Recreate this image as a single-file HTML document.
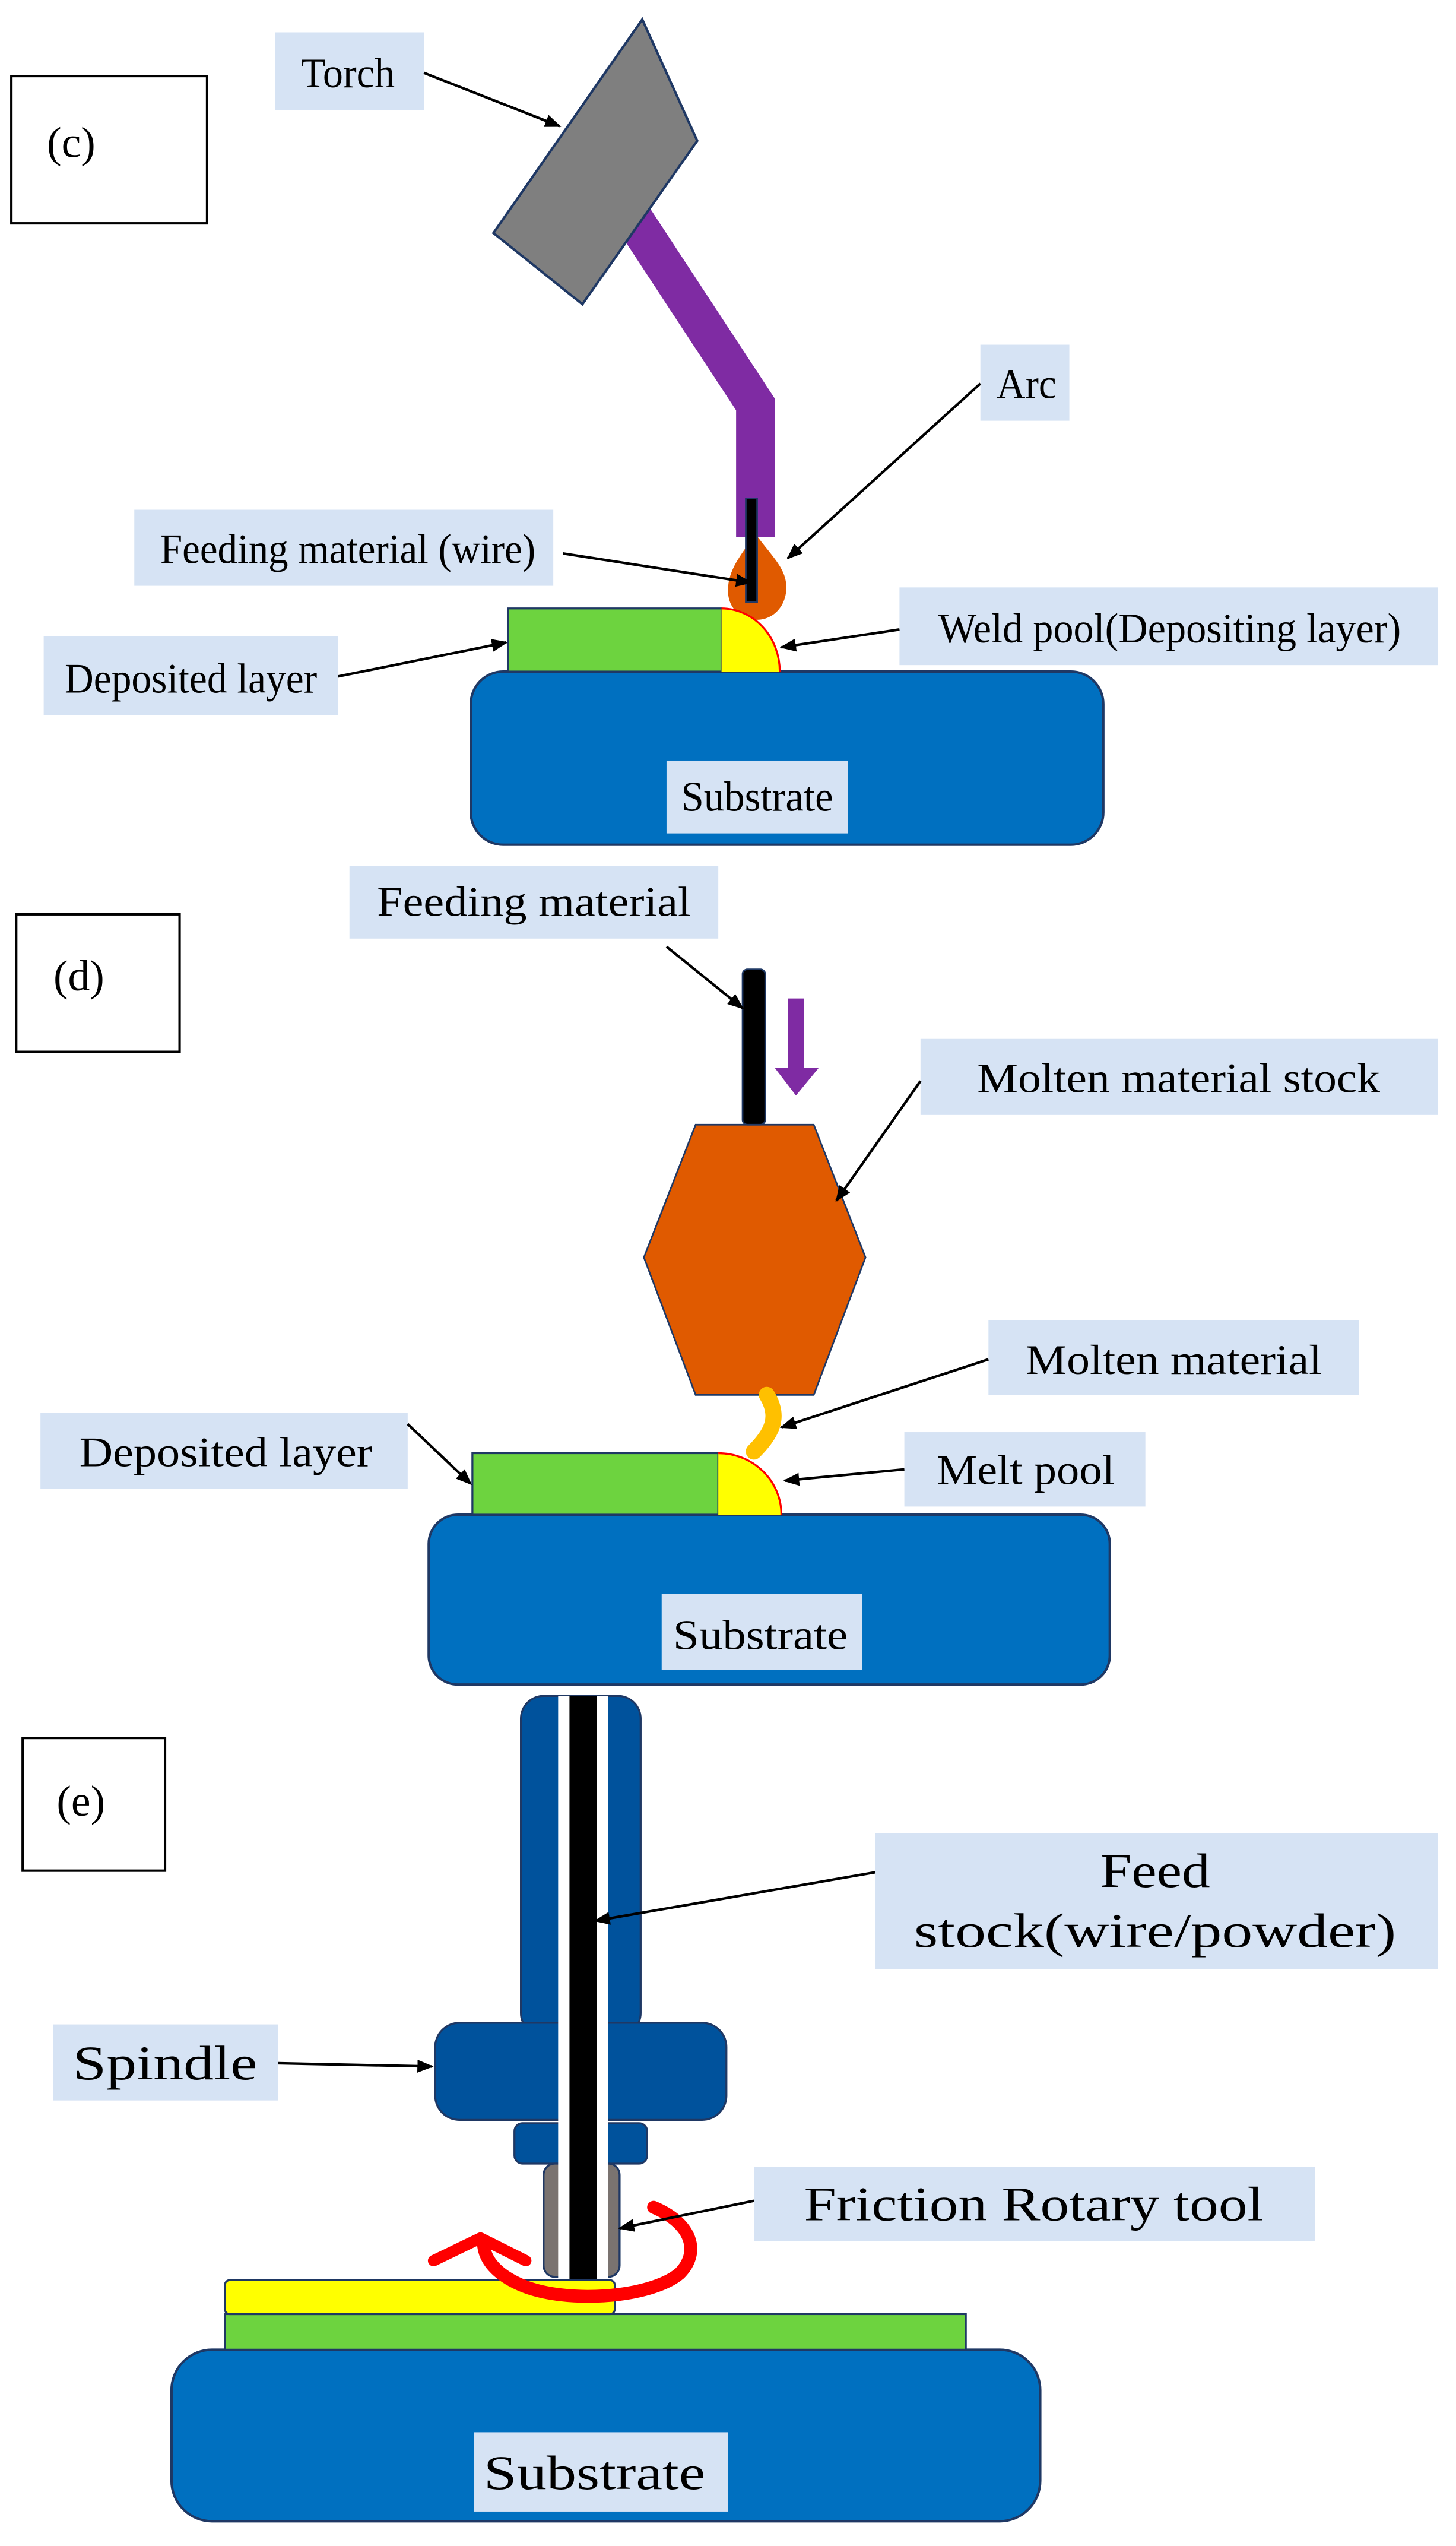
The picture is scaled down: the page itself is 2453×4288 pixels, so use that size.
<!DOCTYPE html>
<html><head><meta charset="utf-8"><style>html,body{margin:0;padding:0;background:#fff}svg{display:block}</style></head>
<body>
<svg width="2453" height="4288" viewBox="0 0 900 1573.3" xmlns="http://www.w3.org/2000/svg" font-family="'Liberation Serif', serif">
<defs>
<marker id="a" markerWidth="10" markerHeight="8" refX="9" refY="4" orient="auto" markerUnits="userSpaceOnUse" viewBox="0 0 10 8">
<path d="M0,0 L10,4 L0,8 z" fill="#000"/></marker>
</defs>
<g fill="#d6e3f4">
<rect x="170" y="20" width="92" height="48"/>
<rect x="606" y="213" width="55" height="47"/>
<rect x="83" y="315" width="259" height="47"/>
<rect x="27" y="393" width="182" height="49"/>
<rect x="556" y="363" width="333" height="48"/>
<rect x="216" y="535" width="228" height="45"/>
<rect x="569" y="642" width="320" height="47"/>
<rect x="611" y="816" width="229" height="46"/>
<rect x="559" y="885" width="149" height="46"/>
<rect x="25" y="873" width="227" height="47"/>
<rect x="541" y="1133" width="348" height="84"/>
<rect x="33" y="1251" width="139" height="47"/>
<rect x="466" y="1339" width="347" height="46"/>
</g>
<g fill="none" stroke="#000" stroke-width="1.5">
<rect x="7" y="47" width="121" height="91"/>
<rect x="10" y="565" width="101" height="85"/>
<rect x="14" y="1074" width="88" height="82"/>
</g>
<!-- (c) -->
<polyline points="385,125 467,250 467,332" fill="none" stroke="#7f2ba3" stroke-width="24"/>
<polygon points="397,12 431,87 360,188 305,144" fill="#7f7f7f" stroke="#1f3864" stroke-width="1.5"/>
<path d="M467,330 C478,345 487,352 486,365 C485,376 477,383 468,383 C458,383 450,376 450,365 C450,352 458,343 467,330 Z" fill="#e05a00"/>
<rect x="461" y="308" width="7" height="64" fill="#000" stroke="#1f3864"/>
<rect x="291" y="415" width="391" height="107" rx="20" fill="#0070c0" stroke="#1f3864" stroke-width="1.5"/>
<rect x="314" y="376" width="132" height="39" fill="#6dd33f" stroke="#1f3864" stroke-width="1.2"/>
<path d="M446,415 L446,376 A36,39 0 0 1 482,415 Z" fill="#ffff00"/>
<path d="M446,376 A36,39 0 0 1 482,415" fill="none" stroke="#ff0000" stroke-width="1.2"/>
<rect x="412" y="470" width="112" height="45" fill="#d6e3f4"/>
<!-- (d) -->
<polygon points="430,695 503,695 535,777 503,862 430,862 398,777" fill="#e05a00" stroke="#1f3864" stroke-width="1"/>
<rect x="459" y="599" width="14" height="96" rx="3" fill="#000" stroke="#1f3864"/>
<rect x="487" y="617" width="10" height="44" fill="#7f2ba3"/>
<polygon points="479,660 506,660 492,677" fill="#7f2ba3"/>
<path d="M474,862 C482,875 478,885 466,897" fill="none" stroke="#ffc000" stroke-width="10" stroke-linecap="round"/>
<rect x="265" y="936" width="421" height="105" rx="18" fill="#0070c0" stroke="#1f3864" stroke-width="1.5"/>
<rect x="292" y="898" width="152" height="38" fill="#6dd33f" stroke="#1f3864" stroke-width="1.2"/>
<path d="M444,936 L444,898 A39,38 0 0 1 483,936 Z" fill="#ffff00"/>
<path d="M444,898 A39,38 0 0 1 483,936" fill="none" stroke="#ff0000" stroke-width="1.2"/>
<rect x="409" y="985" width="124" height="47" fill="#d6e3f4"/>
<!-- (e) -->
<rect x="322" y="1048" width="74" height="210" rx="14" fill="#00529c" stroke="#1f3864" stroke-width="1.2"/>
<rect x="269" y="1250" width="180" height="60" rx="15" fill="#00529c" stroke="#1f3864" stroke-width="1.2"/>
<rect x="318" y="1312" width="82" height="25" rx="5" fill="#00529c" stroke="#1f3864" stroke-width="1.2"/>
<rect x="336" y="1337" width="47" height="70" rx="7" fill="#7a7370" stroke="#1f3864" stroke-width="1.2"/>
<rect x="345" y="1048" width="31" height="360" fill="#fff"/>
<rect x="352" y="1048" width="17" height="362" fill="#000"/>
<rect x="106" y="1452" width="537" height="106" rx="25" fill="#0070c0" stroke="#1f3864" stroke-width="1.5"/>
<rect x="139" y="1430" width="458" height="22" fill="#6dd33f" stroke="#1f3864" stroke-width="1.2"/>
<rect x="139" y="1409" width="241" height="21" rx="3" fill="#ffff00" stroke="#1f3864" stroke-width="1.2"/>
<rect x="293" y="1503" width="157" height="49" fill="#d6e3f4"/>
<path d="M404,1364 C428,1374 433,1392 420,1405 C402,1420 350,1424 322,1412 C306,1405 300,1396 299,1388" fill="none" stroke="#ff0000" stroke-width="8" stroke-linecap="round"/>
<path d="M268,1397 L297,1383 L325,1397" fill="none" stroke="#ff0000" stroke-width="7" stroke-linecap="round" stroke-linejoin="round"/>
<!-- arrows -->
<g stroke="#000" stroke-width="1.6" fill="none" marker-end="url(#a)">
<line x1="262" y1="45" x2="346" y2="78"/>
<line x1="606" y1="237" x2="487" y2="345"/>
<line x1="348" y1="342" x2="464" y2="360"/>
<line x1="209" y1="418" x2="313" y2="397"/>
<line x1="556" y1="389" x2="483" y2="400"/>
<line x1="412" y1="585" x2="459" y2="623"/>
<line x1="569" y1="668" x2="517" y2="742"/>
<line x1="611" y1="840" x2="483" y2="882"/>
<line x1="559" y1="908" x2="485" y2="915"/>
<line x1="252" y1="880" x2="291" y2="917"/>
<line x1="541" y1="1157" x2="368" y2="1187"/>
<line x1="172" y1="1275" x2="267" y2="1277"/>
<line x1="466" y1="1360" x2="383" y2="1377"/>
</g>
<!-- text -->
<g fill="#000" font-size="26">
<text x="29" y="97" font-size="27">(c)</text>
<text x="33" y="612" font-size="27">(d)</text>
<text x="35" y="1122" font-size="27">(e)</text>
<text x="186" y="54" textLength="58" lengthAdjust="spacingAndGlyphs">Torch</text>
<text x="616" y="246" textLength="37" lengthAdjust="spacingAndGlyphs">Arc</text>
<text x="99" y="348" textLength="232" lengthAdjust="spacingAndGlyphs">Feeding material (wire)</text>
<text x="40" y="428" textLength="156" lengthAdjust="spacingAndGlyphs">Deposited layer</text>
<text x="580" y="397" textLength="286" lengthAdjust="spacingAndGlyphs">Weld  pool(Depositing layer)</text>
<text x="421" y="501" textLength="94" lengthAdjust="spacingAndGlyphs">Substrate</text>
<text x="233" y="566" textLength="194" lengthAdjust="spacingAndGlyphs">Feeding material</text>
<text x="604" y="675" textLength="249" lengthAdjust="spacingAndGlyphs">Molten material stock</text>
<text x="634" y="849" textLength="183" lengthAdjust="spacingAndGlyphs">Molten material</text>
<text x="579" y="917" textLength="110" lengthAdjust="spacingAndGlyphs">Melt pool</text>
<text x="49" y="906" textLength="181" lengthAdjust="spacingAndGlyphs">Deposited layer</text>
<text x="416" y="1019" textLength="108" lengthAdjust="spacingAndGlyphs">Substrate</text>
<text x="680" y="1166" font-size="30" textLength="68" lengthAdjust="spacingAndGlyphs">Feed</text>
<text x="565" y="1203" font-size="30" textLength="298" lengthAdjust="spacingAndGlyphs">stock(wire/powder)</text>
<text x="45" y="1285" font-size="30" textLength="114" lengthAdjust="spacingAndGlyphs">Spindle</text>
<text x="497" y="1372" font-size="30" textLength="284" lengthAdjust="spacingAndGlyphs">Friction Rotary tool</text>
<text x="299" y="1538" font-size="30" textLength="137" lengthAdjust="spacingAndGlyphs">Substrate</text>
</g>
</svg>
</body></html>
